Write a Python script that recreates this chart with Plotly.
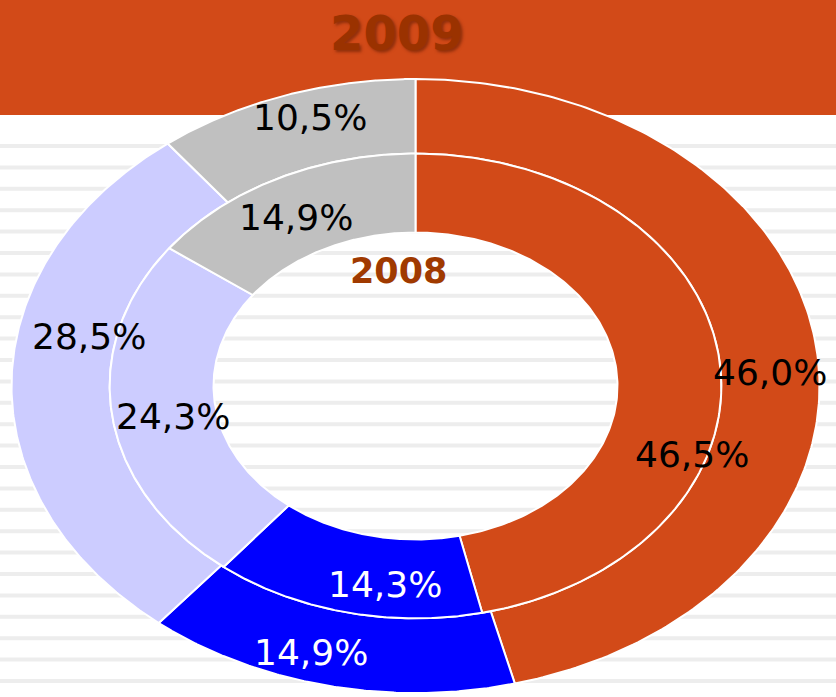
import numpy as np
import plotly.graph_objects as go

# ---------------- data ----------------
categories = ["Segment 1", "Segment 2", "Segment 3", "Segment 4"]
values_2009 = [46.0, 14.9, 28.5, 10.5]   # outer ring
values_2008 = [46.5, 14.3, 24.3, 14.9]   # inner ring
title_outer = "2009"
title_inner = "2008"

# ---------------- style ----------------
W, H = 836, 697
slice_colors = ["#D24A18", "#0000FF", "#CCCCFF", "#C0C0C0"]
label_colors = ["#000000", "#FFFFFF", "#000000", "#000000"]
HOLE, MID, OUTER = 0.5, 0.757, 1.0
CX_PX, CY_PX = 415.5, 386.0     # ellipse centre (pixels)
RX_PX, RY_PX = 404.0, 307.0     # pixels per unit radius
HEADER_PX = 115
# pixel nudges of data labels from the ring mid point (dx, dy-up)
nudge_outer = [(2, -20), (-27, -3), (28, 46), (10, 13)]
nudge_inner = [(24, -90), (27, -11), (9, -6), (-5, -4)]

fig = go.Figure()


def fmt(v):
    return f"{v:.1f}".replace(".", ",") + "%"


def add_ring(values, r_in, r_out, nudges, name):
    total = float(sum(values))
    cum = 0.0
    for cat, v, col, lc, (dx, dy) in zip(categories, values, slice_colors, label_colors, nudges):
        f0, f1 = cum / total, (cum + v) / total
        cum += v
        th = np.linspace(2 * np.pi * f0, 2 * np.pi * f1, 200)
        xo, yo = r_out * np.sin(th), r_out * np.cos(th)
        xi, yi = r_in * np.sin(th[::-1]), r_in * np.cos(th[::-1])
        xs = np.concatenate([xo, xi, xo[:1]])
        ys = np.concatenate([yo, yi, yo[:1]])
        fig.add_trace(go.Scatter(
            x=xs, y=ys, mode="lines", fill="toself",
            fillcolor=col, line=dict(color="white", width=2),
            name=f"{name} {cat}", hoverinfo="text",
            text=f"{name} {cat}: {fmt(v)}", showlegend=False,
        ))
        tm = np.pi * (f0 + f1)
        rm = (r_in + r_out) / 2
        fig.add_annotation(
            x=rm * np.sin(tm), y=rm * np.cos(tm), xref="x", yref="y",
            xanchor="center", yanchor="middle",
            text=fmt(v), showarrow=False, xshift=dx, yshift=dy,
            font=dict(family="DejaVu Sans", size=36, color=lc),
        )


add_ring(values_2009, MID, OUTER, nudge_outer, title_outer)
add_ring(values_2008, HOLE, MID, nudge_inner, title_inner)

# background stripes + header band
shapes = [dict(type="rect", xref="paper", yref="paper", x0=0, x1=1,
               y0=1 - HEADER_PX / H, y1=1, fillcolor="#D24A18",
               line=dict(width=0), layer="below")]
y = 146.0
while y < H - 5:
    shapes.append(dict(type="line", xref="paper", yref="paper", x0=0, x1=1,
                       y0=1 - y / H, y1=1 - y / H,
                       line=dict(color="#EDEDED", width=4), layer="below"))
    y += 21.4

fig.add_annotation(
    x=397 / W, y=1 - 33 / H, xref="paper", yref="paper", showarrow=False,
    xanchor="center", yanchor="middle",
    text=title_outer,
    font=dict(family="DejaVu Sans", size=48, color="#9A3200", weight="bold",
              shadow="2px 2px 3px rgba(90,25,0,0.55)"),
)
fig.add_annotation(
    x=398 / W, y=1 - 271 / H, xref="paper", yref="paper", showarrow=False,
    xanchor="center", yanchor="middle",
    text=title_inner,
    font=dict(family="DejaVu Sans", size=35, color="#A03A00", weight="bold"),
)

fig.update_layout(
    width=W, height=H, autosize=False,
    margin=dict(l=0, r=0, t=0, b=0),
    paper_bgcolor="white", plot_bgcolor="rgba(0,0,0,0)",
    shapes=shapes, showlegend=False,
    xaxis=dict(range=[-CX_PX / RX_PX, (W - CX_PX) / RX_PX], visible=False, fixedrange=True),
    yaxis=dict(range=[-(H - CY_PX) / RY_PX, CY_PX / RY_PX], visible=False, fixedrange=True),
)

fig.write_html(
    "out.html",
    config={"displayModeBar": False},
    post_script="document.body.style.margin='0px';document.body.style.overflow='hidden';",
)
